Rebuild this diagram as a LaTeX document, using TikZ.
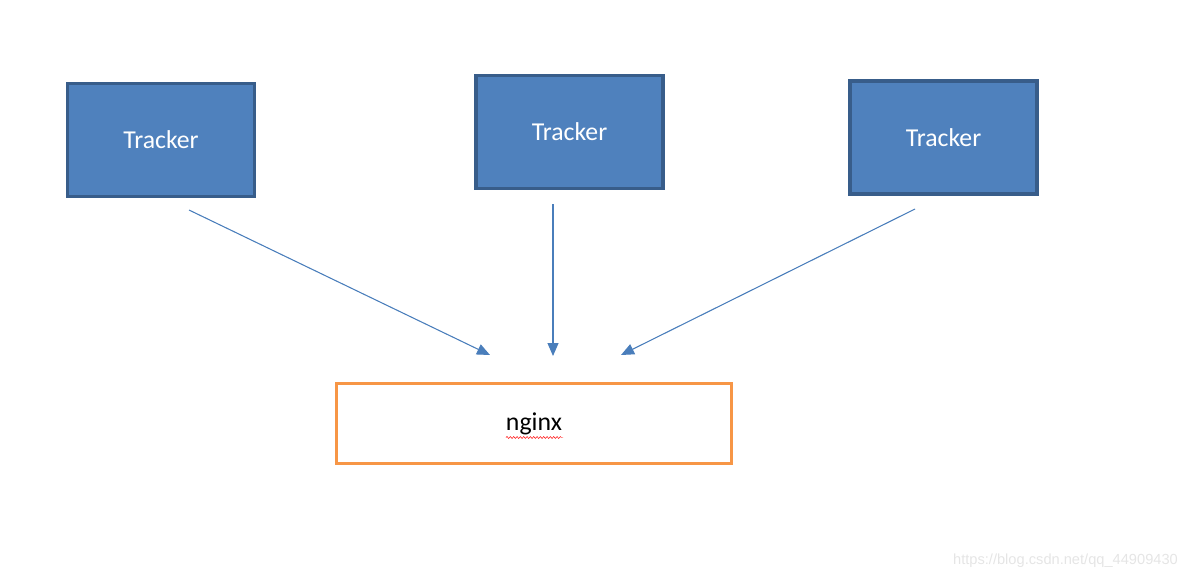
\documentclass[tikz,border=0pt]{standalone}
\usepackage{fontspec}
\setmainfont{Carlito}
\newfontfamily\markfont{Liberation Sans}
\usetikzlibrary{arrows.meta}
\usetikzlibrary{decorations.pathmorphing}
\definecolor{trackfill}{HTML}{4F81BD}
\definecolor{trackline}{HTML}{385D8A}
\definecolor{ngxline}{HTML}{F79646}
\definecolor{linkblue}{HTML}{4A7EBB}
\tikzset{
    trackbox/.style={draw=trackline, fill=trackfill, line width=2.8pt,
        minimum width=5.61cm, minimum height=3.39cm, text=white,
        font=\fontsize{22}{26}\selectfont},
    ngxbox/.style={draw=ngxline, line width=2.6pt,
        minimum width=11.85cm, minimum height=2.4cm},
    linkarrow/.style={-{Triangle[length=0.39cm, width=0.33cm]}, draw=linkblue, fill=linkblue, line width=0.9pt}
}

\begin{document}
\begin{tikzpicture}[x=0.03cm, y=-0.03cm]
    \useasboundingbox (0,0) rectangle (1188,580);

    \node[trackbox] (t1) at (161,140) {Tracker};
    \node[trackbox] (t2) at (569.5,132) {Tracker};
    \node[trackbox] (t3) at (943.5,137.5) {Tracker};

    \node[ngxbox] (ngx) at (534,423.5) {};
    \node (ngxtext) at (534,424) {\fontsize{22}{26}\selectfont nginx};

    % free arrow ends
    \coordinate (s1) at (189,210);
    \coordinate (e1) at (490,355);
    \coordinate (s2) at (553,204);
    \coordinate (e2) at (553,356);
    \coordinate (s3) at (915,209);
    \coordinate (e3) at (621,355);

    \draw [linkarrow] (s1) -- (e1);
    \draw [linkarrow] (s2) -- (e2);
    \draw [linkarrow] (s3) -- (e3);

    % spell check mark
    \coordinate (w1) at (506,437.5);
    \coordinate (w2) at (563,437.5);
    \draw [red, line width=0.4pt, decorate, decoration={snake, amplitude=0.03cm, segment length=0.1cm}] (w1) -- (w2);

    \node[anchor=east, text=black!10, font=\markfont\fontsize{12.5}{14}\selectfont] (mark) at (1182,561) {https://blog.csdn.net/qq\_44909430};
\end{tikzpicture}
\end{document}
